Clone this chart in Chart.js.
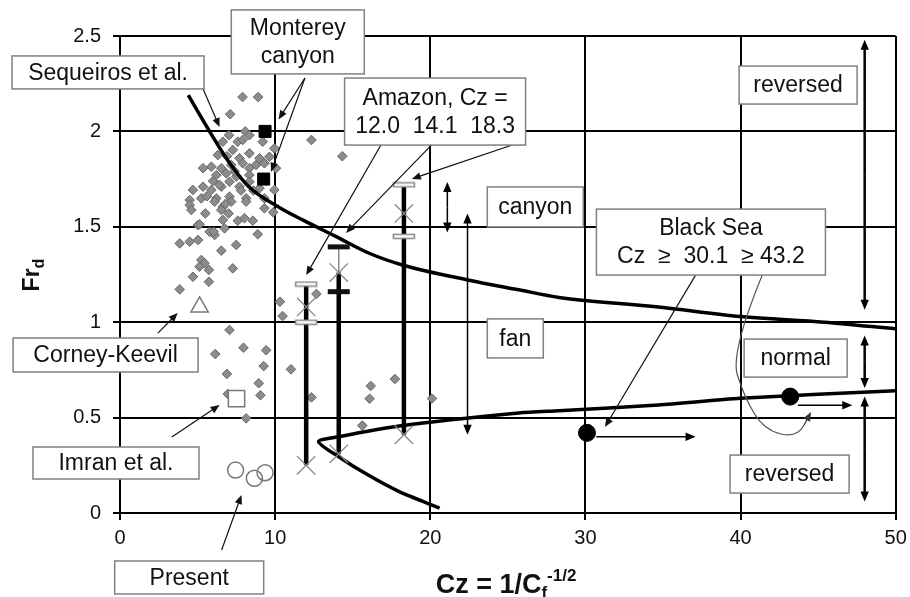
<!DOCTYPE html>
<html>
<head>
<meta charset="utf-8">
<script src="https://cdn.jsdelivr.net/npm/chart.js@4.4.1/dist/chart.umd.min.js"></script>
<style>html,body{margin:0;padding:0;background:#fff}</style>
</head>
<body>
<canvas id="chart" width="910" height="597"></canvas>
<script>
const FONT = '"Liberation Sans", Arial, sans-serif';

// grey diamonds (published data)
const dataCz = [7.9, 8.9, 7.1, 12.34, 14.33, 7.02, 8.07, 8.34, 6.63, 7.59, 7.91, 9.2, 9.95, 6.31, 7.27, 8.34, 8.99, 9.63, 7.7,
  5.35, 5.89, 6.53, 7.17, 7.91, 8.34, 8.77, 9.31, 10.06, 6.21, 6.85, 7.49, 8.34, 4.7, 5.35, 5.89, 6.53, 7.06, 7.7, 8.34, 8.99,
  9.95, 4.49, 5.24, 6.21, 7.06, 8.13, 9.31, 4.49, 6.63, 9.88, 4.6, 6.1, 7.17, 6.53, 8.13, 9.31, 5.03, 6.63, 7.59, 8.02, 8.56,
  6.74, 5.78, 6.1, 8.88, 3.85, 4.49, 5.03, 7.49, 6.53, 5.24, 5.45, 5.13, 5.73, 7.27, 4.7, 5.73, 3.85, 10.31, 10.48, 12.66,
  7.06, 6.14, 7.96, 9.42, 9.26, 11.02, 6.89, 8.94, 6.95, 9.05, 8.13, 12.34, 16.16, 16.09, 15.62, 17.72, 20.11, 6.04, 5.13,
  6.9, 7.4, 6.0, 7.8, 5.6, 8.6, 6.8, 5.5, 7.0, 6.4];
const dataFr = [2.18, 2.18, 2.09, 1.955, 1.87, 1.98, 2.0, 1.98, 1.946, 1.946, 1.955, 1.946, 1.911, 1.876, 1.903, 1.885, 1.859, 1.867, 1.859,
  1.807, 1.815, 1.807, 1.824, 1.833, 1.807, 1.824, 1.833, 1.807, 1.771, 1.78, 1.763, 1.771, 1.693, 1.71, 1.693, 1.71, 1.736, 1.71, 1.736, 1.702,
  1.693, 1.64, 1.649, 1.649, 1.658, 1.649, 1.649, 1.614, 1.605, 1.576, 1.588, 1.632, 1.632, 1.588, 1.632, 1.597, 1.509, 1.536, 1.532, 1.545, 1.532,
  1.492, 1.474, 1.457, 1.461, 1.413, 1.422, 1.431, 1.405, 1.375, 1.326, 1.309, 1.291, 1.274, 1.282, 1.238, 1.212, 1.172, 1.107, 1.032, 1.148,
  0.959, 0.833, 0.866, 0.853, 0.77, 0.753, 0.729, 0.68, 0.624, 0.617, 0.496, 0.606, 0.666, 0.599, 0.458, 0.702, 0.6, 1.474, 1.513,
  1.87, 1.79, 1.74, 1.69, 1.66, 1.69, 1.62, 1.57, 1.57, 1.72];

const montereyCz = [9.35, 9.26];
const montereyFr = [2.0, 1.75];
const corneyCz = [5.13];
const corneyFr = [1.08];
const imranCz = [7.51];
const imranFr = [0.60];
const presentCz = [7.45, 8.66, 9.35];
const presentFr = [0.225, 0.182, 0.211];
const blackSeaCz = [30.1, 43.2];
const blackSeaFr = [0.42, 0.61];

// Amazon
const amazonCz = [12.0, 14.1, 18.3];
const amazonBottom = [0.25, 0.31, 0.41];
const amazonTop = [1.20, 1.26, 1.72];
const crossCz = [12.0, 12.0, 14.1, 14.1, 18.3, 18.3];
const crossFr = [1.08, 0.25, 1.26, 0.31, 1.57, 0.41];
const openCapCz = [12.0, 12.0, 18.3, 18.3];
const openCapFr = [1.20, 1.00, 1.72, 1.45];
const blackCapCz = [14.1, 14.1];
const blackCapFr = [1.395, 1.16];

// boundary curves
const upperCz = [4.4, 5.7, 7.1, 8.3, 10.3, 11.8, 13.9, 16.1, 18.2, 22.5, 25.7, 28.3, 34.7, 40, 45.4, 50];
const upperFr = [2.19, 2.01, 1.83, 1.71, 1.60, 1.535, 1.45, 1.36, 1.30, 1.22, 1.17, 1.13, 1.08, 1.03, 1.0, 0.965];
const lowerCz = [20.6, 18.0, 15.8, 14.1, 12.8, 14.1, 18.0, 25.7, 28.3, 34.7, 40, 50];
const lowerFr = [0.026, 0.112, 0.208, 0.295, 0.374, 0.40, 0.456, 0.524, 0.536, 0.566, 0.601, 0.641];

const xTicks = [0, 10, 20, 30, 40, 50];
const yTicks = [0, 0.5, 1, 1.5, 2, 2.5];

// annotations (data units)
const boxes = [
  {x: -0.77, y: 2.309, w: 192, h: 33, lines: ['Sequeiros et al.']},
  {x: 11.46, y: 2.469, w: 133, h: 64, lines: ['Monterey', 'canyon']},
  {x: 20.31, y: 2.104, w: 181, h: 67, lines: ['Amazon, Cz =', '12.0  14.1  18.3']},
  {x: 26.77, y: 1.604, w: 96, h: 40, lines: ['canyon']},
  {x: 25.48, y: 0.915, w: 56, h: 39, lines: ['fan']},
  {x: 38.09, y: 1.42, w: 229, h: 66, lines: ['Black Sea', 'Cz  \u2265  30.1  \u2265 43.2']},
  {x: 43.71, y: 2.243, w: 118, h: 38, lines: ['reversed']},
  {x: 43.55, y: 0.812, w: 103, h: 38, lines: ['normal']},
  {x: 43.16, y: 0.204, w: 119, h: 38, lines: ['reversed']},
  {x: -0.93, y: 0.828, w: 185, h: 34, lines: ['Corney-Keevil']},
  {x: -0.26, y: 0.262, w: 166, h: 32, lines: ['Imran et al.']},
  {x: 4.46, y: -0.338, w: 149, h: 33, lines: ['Present']}
];
const leaders = [
  [5.33, 2.227, 6.42, 2.023], [11.92, 2.28, 10.22, 2.063], [11.92, 2.28, 9.74, 1.789],
  [16.82, 1.929, 12.0, 1.247], [20.09, 1.929, 14.57, 1.468], [25.67, 1.939, 18.81, 1.751],
  [2.44, 0.943, 3.72, 1.048], [3.34, 0.398, 6.42, 0.566], [6.55, -0.194, 7.83, 0.094],
  [37.1, 1.247, 31.26, 0.451]
];
const rangeArrows = [
  {x: 21.1, y1: 1.735, y2: 1.47, w: 1.5}, {x: 22.4, y1: 1.57, y2: 0.41, w: 1.5},
  {x: 48, y1: 2.48, y2: 1.065, w: 2.5}, {x: 48, y1: 0.93, y2: 0.655, w: 2.5}, {x: 48, y1: 0.61, y2: 0.06, w: 2.5}
];
const shiftArrows = [{y: 0.40, x1: 30.7, x2: 37.1}, {y: 0.565, x1: 43.7, x2: 47.2}];
const curly = [[41.4, 1.247], [39.35, 0.839], [40.24, 0.608], [41.53, 0.435], [43.65, 0.393], [44.54, 0.529]];


const pts = (xs, ys) => xs.map((x, i) => ({x: x, y: ys[i]}));

const capImage = (fill, stroke) => {
  const c = document.createElement('canvas');
  c.width = 24; c.height = 7;
  const g = c.getContext('2d');
  g.fillStyle = fill;
  g.fillRect(1, 1, 22, 5);
  if (stroke) {
    g.strokeStyle = stroke; g.lineWidth = 1.5;
    g.strokeRect(1.5, 1.5, 21, 4);
  }
  return c;
};

const arrow = (ctx, x1, y1, x2, y2, width, color, head) => {
  const a = Math.atan2(y2 - y1, x2 - x1);
  ctx.save();
  ctx.strokeStyle = color; ctx.fillStyle = color; ctx.lineWidth = width;
  ctx.beginPath();
  ctx.moveTo(x1, y1);
  ctx.lineTo(x2 - head * 0.7 * Math.cos(a), y2 - head * 0.7 * Math.sin(a));
  ctx.stroke();
  const s = head * 0.42;
  ctx.beginPath();
  ctx.moveTo(x2, y2);
  ctx.lineTo(x2 - head * Math.cos(a) + s * Math.sin(a), y2 - head * Math.sin(a) - s * Math.cos(a));
  ctx.lineTo(x2 - head * Math.cos(a) - s * Math.sin(a), y2 - head * Math.sin(a) + s * Math.cos(a));
  ctx.closePath();
  ctx.fill();
  ctx.restore();
};

const annotations = {
  id: 'annotations',
  afterDraw(chart) {
    const ctx = chart.ctx;
    const px = v => chart.scales.x.getPixelForValue(v);
    const py = v => chart.scales.y.getPixelForValue(v);

    leaders.forEach(l => arrow(ctx, px(l[0]), py(l[1]), px(l[2]), py(l[3]), 1.2, '#111', 9));

    rangeArrows.forEach(r => {
      const mid = (py(r.y1) + py(r.y2)) / 2;
      arrow(ctx, px(r.x), mid, px(r.x), py(r.y1), r.w, '#000', 10);
      arrow(ctx, px(r.x), mid, px(r.x), py(r.y2), r.w, '#000', 10);
    });
    shiftArrows.forEach(s => arrow(ctx, px(s.x1), py(s.y), px(s.x2), py(s.y), 1.5, '#000', 10));

    // curly leader to the 43.2 point
    const c = curly.map(p => [px(p[0]), py(p[1])]);
    ctx.save();
    ctx.strokeStyle = '#555'; ctx.lineWidth = 1.2;
    ctx.beginPath();
    ctx.moveTo(c[0][0], c[0][1]);
    for (let i = 1; i < c.length - 1; i++) {
      ctx.quadraticCurveTo(c[i][0], c[i][1], (c[i][0] + c[i + 1][0]) / 2, (c[i][1] + c[i + 1][1]) / 2);
    }
    ctx.stroke();
    ctx.restore();
    const n = c.length;
    arrow(ctx, (c[n - 2][0] + c[n - 1][0]) / 2, (c[n - 2][1] + c[n - 1][1]) / 2, c[n - 1][0], c[n - 1][1], 1.2, '#333', 9);

    boxes.forEach(b => {
      const cx = px(b.x), cy = py(b.y);
      ctx.save();
      ctx.fillStyle = '#fff';
      ctx.strokeStyle = '#808080';
      ctx.lineWidth = 1.5;
      ctx.fillRect(cx - b.w / 2, cy - b.h / 2, b.w, b.h);
      ctx.strokeRect(cx - b.w / 2, cy - b.h / 2, b.w, b.h);
      ctx.fillStyle = '#111';
      ctx.font = '23px ' + FONT;
      ctx.textAlign = 'center';
      ctx.textBaseline = 'middle';
      b.lines.forEach((t, i) => {
        ctx.fillText(t, cx, cy + (i - (b.lines.length - 1) / 2) * 28 + 1);
      });
      ctx.restore();
    });

    // axis titles
    ctx.save();
    ctx.fillStyle = '#111';
    ctx.textBaseline = 'alphabetic';
    const big = 'bold 27px ' + FONT, small = 'bold 17px ' + FONT;
    ctx.font = big;
    const w1 = ctx.measureText('Cz = 1/C').width;
    ctx.font = small;
    const w2 = ctx.measureText('f').width;
    const w3 = ctx.measureText('-1/2').width;
    let x0 = 506 - (w1 + w2 + w3) / 2;
    const base = 593;
    ctx.font = big; ctx.fillText('Cz = 1/C', x0, base);
    ctx.font = small; ctx.fillText('f', x0 + w1, base + 5);
    ctx.fillText('-1/2', x0 + w1 + w2, base - 12);

    ctx.translate(39, 275);
    ctx.rotate(-Math.PI / 2);
    ctx.font = 'bold 23px ' + FONT;
    const f1 = ctx.measureText('Fr').width;
    ctx.font = 'bold 16px ' + FONT;
    const f2 = ctx.measureText('d').width;
    ctx.font = 'bold 23px ' + FONT;
    ctx.fillText('Fr', -(f1 + f2) / 2, 0);
    ctx.font = 'bold 16px ' + FONT;
    ctx.fillText('d', -(f1 + f2) / 2 + f1, 5);
    ctx.restore();
  }
};

const marker = (data, style, radius, fill, border, width, order) => ({
  data: data, showLine: false, pointStyle: style, pointRadius: radius,
  backgroundColor: fill, borderColor: border, pointBorderWidth: width, order: order
});
const segment = (x, y1, y2, width, color) => ({
  data: [{x: x, y: y1}, {x: x, y: y2}], showLine: true, borderColor: color,
  borderWidth: width, pointRadius: 0, order: 2
});

const ctx = document.getElementById('chart').getContext('2d');
const chart = new Chart(ctx, {
  type: 'scatter',
  data: {
    datasets: [
      marker(pts(crossCz, crossFr), 'crossRot', 13, '#888', '#888', 1.3, 0),
      marker(pts(openCapCz, openCapFr), capImage('#fff', '#888'), 6, '#fff', '#888', 1, 0),
      marker(pts(blackCapCz, blackCapFr), capImage('#111'), 6, '#111', '#111', 1, 0),
      marker(pts(montereyCz, montereyFr), 'rect', 8.5, '#000', '#000', 1, 0),
      marker(pts(corneyCz, corneyFr), 'triangle', 10, '#fff', '#777', 1.5, 0),
      marker(pts(imranCz, imranFr), 'rect', 11.5, '#fff', '#777', 1.5, 0),
      marker(pts(presentCz, presentFr), 'circle', 8, 'rgba(255,255,255,0)', '#777', 1.5, 0),
      marker(pts(blackSeaCz, blackSeaFr), 'circle', 8.5, '#000', '#000', 1, 0),
      {data: pts(upperCz, upperFr), showLine: true, borderColor: '#000', borderWidth: 3.5,
        pointRadius: 0, cubicInterpolationMode: 'monotone', order: 1},
      {data: pts(lowerCz, lowerFr), showLine: true, borderColor: '#000', borderWidth: 3.5,
        pointRadius: 0, tension: 0.25, order: 1},
      ...amazonCz.map((cz, i) => segment(cz, amazonBottom[i], amazonTop[i], 4.5, '#000')),
      segment(amazonCz[1], amazonTop[1], blackCapFr[0], 1.5, '#888'),
      marker(pts(dataCz, dataFr), 'rectRot', 4.8, '#8c8c8c', '#666', 1, 3)
    ]
  },
  options: {
    responsive: false,
    devicePixelRatio: 1,
    animation: false,
    layout: {padding: {top: 36, right: 8, left: 0, bottom: 0}},
    plugins: {legend: {display: false}, tooltip: {enabled: false}},
    scales: {
      x: {
        type: 'linear', min: 0, max: 50,
        afterBuildTicks: s => { s.ticks = xTicks.map(v => ({value: v})); },
        afterFit: s => { s.height = 84; s.paddingRight = 0; s.paddingLeft = 0; },
        ticks: {color: '#111', font: {family: FONT, size: 20}, padding: 6, callback: v => String(v)},
        grid: {color: '#000', lineWidth: 2, tickLength: 7, tickColor: '#000'},
        border: {color: '#000', width: 2}
      },
      y: {
        min: 0, max: 2.5,
        afterBuildTicks: s => { s.ticks = yTicks.map(v => ({value: v})); },
        afterFit: s => { s.width = 120; s.paddingTop = 0; s.paddingBottom = 0; },
        ticks: {color: '#111', font: {family: FONT, size: 20}, padding: 12, callback: v => String(v)},
        grid: {color: '#000', lineWidth: 2, tickLength: 7, tickColor: '#000'},
        border: {color: '#000', width: 2}
      }
    }
  },
  plugins: [annotations]
});
</script>
</body>
</html>
